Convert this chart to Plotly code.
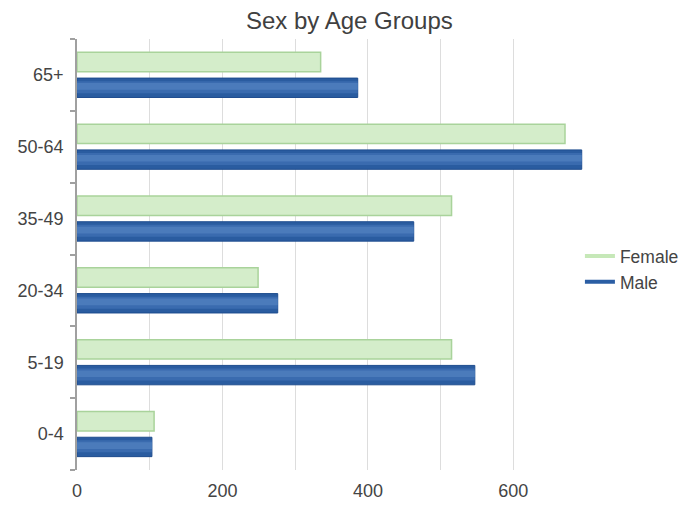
import plotly.graph_objects as go

# ---- data ----
age_groups = ["0-4", "5-19", "20-34", "35-49", "50-64", "65+"]
female = [106, 515, 249, 515, 671, 335]
male = [103, 547, 276, 463, 694, 386]
x_tick_vals = [0, 200, 400, 600]
x_tick_text = ["0", "200", "400", "600"]

# ---- styles ----
FONT = "Liberation Sans, Arial, sans-serif"
TXT = "#444444"
BAR_W = 0.27
F_OFF = 0.044
M_OFF = -0.314

fig = go.Figure()

# Female bar
fig.add_trace(go.Bar(
    y=age_groups, x=female, orientation="h", width=BAR_W, offset=F_OFF,
    marker=dict(color="#d4edca", line=dict(color="#a9d39b", width=1.5)),
    showlegend=False, hoverinfo="skip"))

# Male bar (layered to mimic the gradient)
fig.add_trace(go.Bar(
    y=age_groups, x=male, orientation="h", width=BAR_W, offset=M_OFF,
    marker=dict(color="#2a5ca0", line=dict(color="#1e4c8e", width=1)),
    showlegend=False, hoverinfo="skip"))
top = M_OFF + BAR_W
fig.add_trace(go.Bar(
    y=age_groups, x=male, orientation="h", width=BAR_W * 0.62,
    offset=top - BAR_W * 0.78,
    marker=dict(color="#3a6baf", line=dict(width=0)),
    showlegend=False, hoverinfo="skip"))
fig.add_trace(go.Bar(
    y=age_groups, x=male, orientation="h", width=BAR_W * 0.34,
    offset=top - BAR_W * 0.6,
    marker=dict(color="#4b7bbb", line=dict(width=0)),
    showlegend=False, hoverinfo="skip"))

# legend entries (line symbols)
fig.add_trace(go.Scatter(x=[None], y=[None], mode="lines", name="Female",
                         line=dict(color="#c6e8b8", width=4)))
fig.add_trace(go.Scatter(x=[None], y=[None], mode="lines", name="Male",
                         line=dict(color="#2b5ea4", width=4)))

fig.update_layout(
    width=681, height=508,
    margin=dict(l=77, r=96, t=39, b=38, autoexpand=False),
    paper_bgcolor="white", plot_bgcolor="white",
    barmode="overlay",
    font=dict(family=FONT, size=18, color=TXT),
    title=dict(text="Sex by Age Groups", x=0.513, xref="container", xanchor="center",
               y=0.96, yref="container", yanchor="middle",
               font=dict(family=FONT, size=24, color="#404040")),
    legend=dict(x=0.99, xanchor="left", y=0.466, yanchor="middle",
                font=dict(family=FONT, size=17.5, color=TXT),
                bgcolor="rgba(0,0,0,0)", tracegroupgap=0),
    hovermode=False,
)

fig.update_xaxes(
    range=[0, 698.5], tickvals=x_tick_vals, ticktext=x_tick_text,
    showgrid=True, gridcolor="#dddddd", gridwidth=1,
    minor=dict(dtick=100, showgrid=True, gridcolor="#dddddd", gridwidth=1, ticks=""),
    zeroline=False, showline=False, ticks="", ticklabelstandoff=8,
    tickfont=dict(family=FONT, size=18, color=TXT),
)
fig.update_yaxes(
    type="category", categoryorder="array", categoryarray=age_groups,
    range=[-0.5, 5.5],
    showgrid=False, zeroline=False,
    showline=True, linecolor="#a0a0a0", linewidth=1.5,
    ticks="outside", tickson="boundaries", ticklen=5, tickcolor="#a0a0a0", tickwidth=1.5,
    ticklabelstandoff=8,
    tickfont=dict(family=FONT, size=18, color=TXT),
)

fig.write_html("out.html")
